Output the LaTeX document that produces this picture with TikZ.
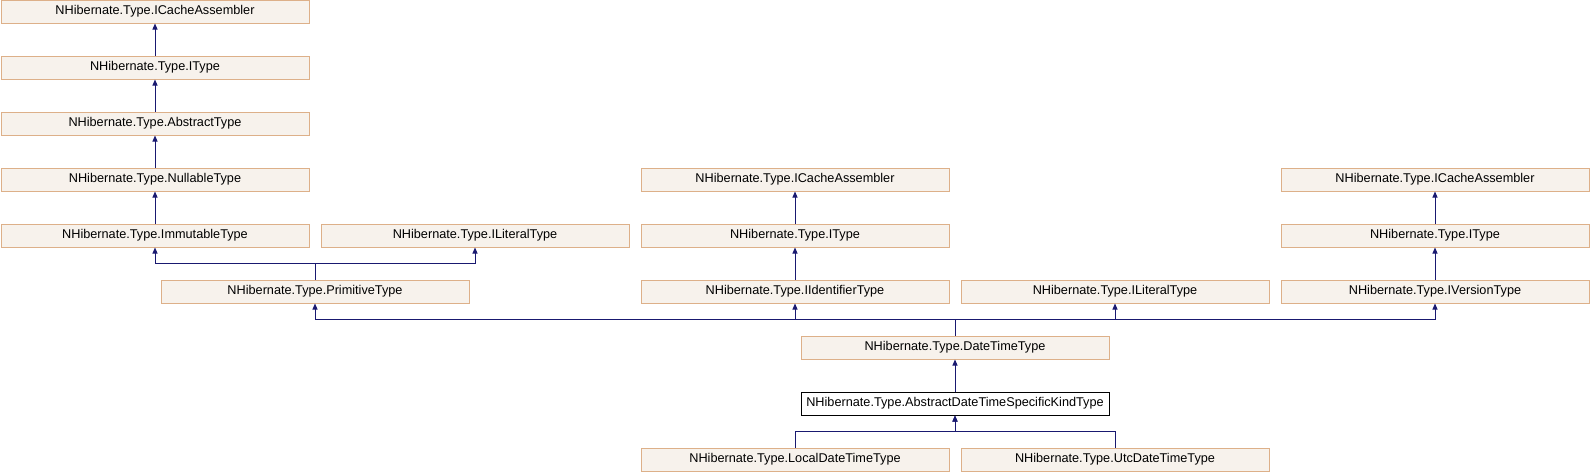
\documentclass[tikz,border=0pt]{standalone}
\usepackage{fontspec}
\setmainfont{Liberation Sans}
\usetikzlibrary{arrows.meta}
\definecolor{clsfill}{HTML}{F7F2EC}
\definecolor{clsline}{HTML}{DDB089}
\definecolor{edgeblue}{HTML}{191970}

\begin{document}
\begin{tikzpicture}[x=1pt, y=-1pt,
	cls/.style = {rectangle, draw = clsline, fill = clsfill, line width = 1pt,
		minimum width = 308pt, minimum height = 23pt, inner sep = 0pt,
		font = \fontsize{12.7}{14}\selectfont},
	cur/.style = {cls, draw = black, fill = white},
	edge/.style = {draw = edgeblue, line width = 1pt, -{Triangle[length = 6pt, width = 5pt]}}]
\useasboundingbox (0,0) rectangle (1590,472);
% left column
\node[cls] (ica0) at (155,11.5) {NHibernate.Type.ICacheAssembler};
\node[cls] (ity0) at (155,67.5) {NHibernate.Type.IType};
\node[cls] (abs) at (155,123.5) {NHibernate.Type.AbstractType};
\node[cls] (nul) at (155,179.5) {NHibernate.Type.NullableType};
\node[cls] (imm) at (155,235.5) {NHibernate.Type.ImmutableType};
\node[cls] (lit0) at (475,235.5) {NHibernate.Type.ILiteralType};
\node[cls] (prim) at (315,291.5) {NHibernate.Type.PrimitiveType};
% middle column
\node[cls] (ica1) at (795,179.5) {NHibernate.Type.ICacheAssembler};
\node[cls] (ity1) at (795,235.5) {NHibernate.Type.IType};
\node[cls] (iid) at (795,291.5) {NHibernate.Type.IIdentifierType};
\node[cls] (lit1) at (1115,291.5) {NHibernate.Type.ILiteralType};
% right column
\node[cls] (ica2) at (1435,179.5) {NHibernate.Type.ICacheAssembler};
\node[cls] (ity2) at (1435,235.5) {NHibernate.Type.IType};
\node[cls] (iver) at (1435,291.5) {NHibernate.Type.IVersionType};
% bottom
\node[cls] (dtt) at (955,347.5) {NHibernate.Type.DateTimeType};
\node[cur] (adt) at (955,403.5) {NHibernate.Type.AbstractDateTimeSpecificKindType};
\node[cls] (ldt) at (795,459.5) {NHibernate.Type.LocalDateTimeType};
\node[cls] (utc) at (1115,459.5) {NHibernate.Type.UtcDateTimeType};
% junctions
\coordinate (jp) at (315,263.5);
\coordinate (jd) at (955,319.5);
\coordinate (ja) at (955,431.5);
% edges
\draw[edge] (ity0) -- (ica0);
\draw[edge] (abs) -- (ity0);
\draw[edge] (nul) -- (abs);
\draw[edge] (imm) -- (nul);
\draw[edge] (prim.north) -- (jp) -| (imm.south);
\draw[edge] (prim.north) -- (jp) -| (lit0.south);
\draw[edge] (ity1) -- (ica1);
\draw[edge] (iid) -- (ity1);
\draw[edge] (ity2) -- (ica2);
\draw[edge] (iver) -- (ity2);
\draw[edge] (dtt.north) -- (jd) -| (prim.south);
\draw[edge] (dtt.north) -- (jd) -| (iid.south);
\draw[edge] (dtt.north) -- (jd) -| (lit1.south);
\draw[edge] (dtt.north) -- (jd) -| (iver.south);
\draw[edge] (adt) -- (dtt);
\draw[edge] (ldt.north) |- (ja) -- (adt.south);
\draw[edge] (utc.north) |- (ja) -- (adt.south);
\end{tikzpicture}
\end{document}
